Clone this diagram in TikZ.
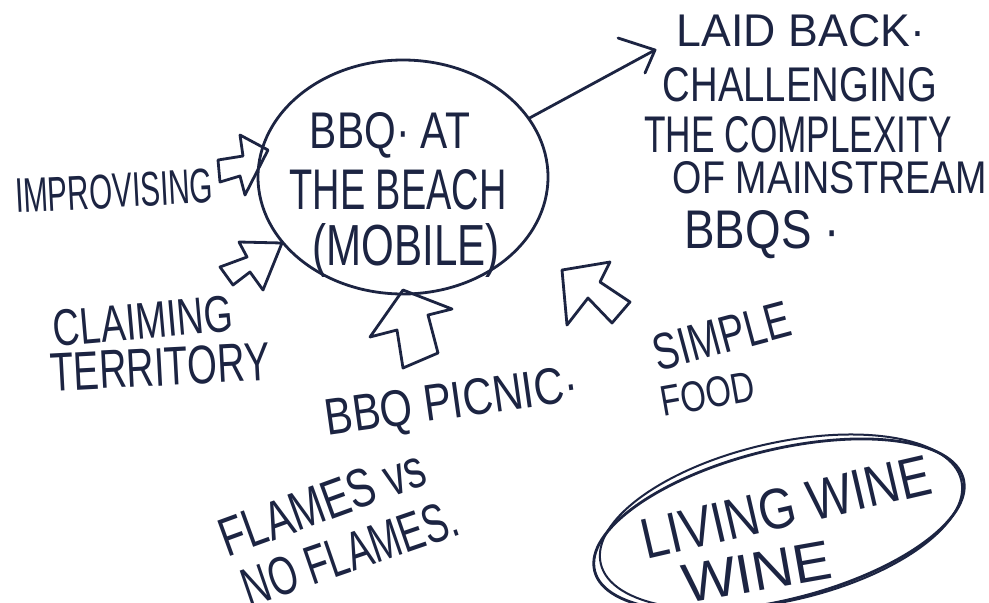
\documentclass[tikz,border=0pt]{standalone}
\usepackage{fontspec}
\setmainfont{Liberation Sans}
\usetikzlibrary{shapes.geometric}
\definecolor{ink}{RGB}{28,36,66}
\newcommand{\hw}[3]{\resizebox{#1pt}{#2pt}{#3}}
\begin{document}
\begin{tikzpicture}[x=1pt,y=-1pt,
  pen/.style={draw=ink, line width=2.8pt, line join=round, line cap=round},
  txt/.style={text=ink, inner sep=0pt, anchor=center}]
\useasboundingbox (0,0) rectangle (989,603);
\fill[white] (0,0) rectangle (989,603);
\clip (0,0) rectangle (989,603);

% central bubble
\node[pen, ellipse, minimum width=290pt, minimum height=234pt, inner sep=0pt] (bbq) at (403,177) {};
\node[txt] (t1) at (390,135) {\hw{160}{36}{BBQ· AT}};
\node[txt] (t2) at (398,190) {\hw{217}{40}{THE BEACH}};
\node[txt] (t3) at (406,250) {\hw{187}{42}{(MOBILE)}};

% right-hand notes
\node[txt] (laid) at (801,31) {\hw{248}{32}{LAID BACK·}};
\node[txt] (chal) at (800,85) {\hw{274}{34}{CHALLENGING}};
\node[txt] (comp) at (798,135) {\hw{307}{36}{THE COMPLEXITY}};
\node[txt] (main) at (830,178) {\hw{314}{32}{OF MAINSTREAM}};
\node[txt] (bbqs) at (762,235) {\hw{155}{38}{BBQS ·}};

% connector to laid back
\coordinate (tipLB) at (655,50);
\draw[pen] (bbq.25) -- (tipLB);
\draw[pen] (618,38) -- (tipLB) -- (645,73);

% left labels
\node[txt, rotate=3] (impr) at (114,191) {\hw{198}{34}{IMPROVISING}};
\node[txt, rotate=5] (claim) at (143,321) {\hw{180}{36}{CLAIMING}};
\node[txt, rotate=3] (terr) at (160,367) {\hw{220}{38}{TERRITORY}};

% bottom labels
\node[txt, rotate=8] (picnic) at (452,405) {\hw{255}{36}{BBQ PICNIC·}};
\node[txt, rotate=15] (simple) at (722,336) {\hw{140}{36}{SIMPLE}};
\node[txt, rotate=10] (food) at (708,394) {\hw{95}{30}{FOOD}};
\node[txt, rotate=20] (flames) at (322,503) {\hw{215}{38}{FLAMES vs}};
\node[txt, rotate=19] (noflames) at (350,553) {\hw{225}{38}{NO FLAMES.}};

% block arrows
\draw[pen] (218,160) -- (243,156) -- (240,135) -- (268,150) -- (245,195) -- (240,176) -- (220,182) -- cycle;
\draw[pen] (282,243) -- (263,290) -- (250,272) -- (233,285) -- (220,267) -- (247,257) -- (239,242) -- cycle;
\draw[pen] (403,290) -- (452,309) -- (428,315) -- (438,353) -- (403,368) -- (397,330) -- (370,337) -- cycle;
\draw[pen] (562,270) -- (610,262) -- (600,282) -- (630,302) -- (612,323) -- (588,298) -- (567,325) -- cycle;

% living wine bubble
\draw[pen, rotate around={14:(779,525)}] (779,525) ellipse [x radius=190pt, y radius=75pt];
\draw[pen, line width=2pt, rotate around={13:(781,522)}] (781,522) ellipse [x radius=185pt, y radius=79pt];
\node[txt, rotate=13] (living) at (786,507) {\hw{295}{40}{LIVING WINE}};
\node[txt, rotate=10] (wine) at (757,572) {\hw{150}{38}{WINE}};
\end{tikzpicture}
\end{document}
